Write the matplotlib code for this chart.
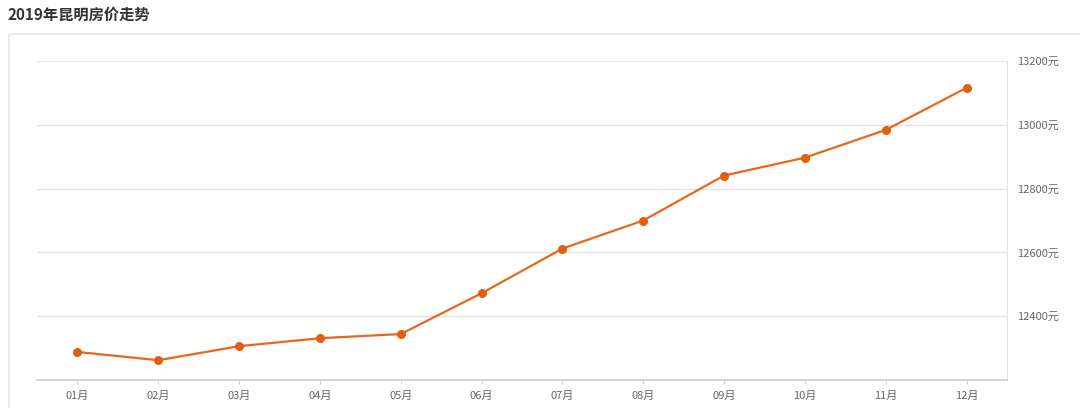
import matplotlib
matplotlib.use('Agg')
import matplotlib.pyplot as plt
from matplotlib.patches import FancyBboxPatch

plt.rcParams['font.family'] = ['Noto Sans CJK SC', 'DejaVu Sans']

months = ['01月', '02月', '03月', '04月', '05月', '06月',
          '07月', '08月', '09月', '10月', '11月', '12月']
prices = [12288, 12262, 12306, 12331, 12344, 12472,
          12612, 12700, 12841, 12897, 12984, 13116]
yticks = [12400, 12600, 12800, 13000, 13200]
title = '2019年昆明房价走势'

fig = plt.figure(figsize=(10.8, 4.08), dpi=100)
fig.patch.set_facecolor('white')

# outer frame
box = FancyBboxPatch((9 / 1080, -0.05), 1.2, (408 - 34) / 408 + 0.05,
                     boxstyle='round,pad=0,rounding_size=0.004',
                     transform=fig.transFigure, facecolor='white',
                     edgecolor='#e6e6e6', linewidth=1.2, zorder=-10)
fig.patches.append(box)

fig.text(8 / 1080, 1 - 15 / 408, title, fontsize=11, fontweight='bold',
         color='#333333', va='center', ha='left')

ax = fig.add_axes([37 / 1080, (408 - 380) / 408, (1007 - 37) / 1080, (380 - 61) / 408])
ax.set_facecolor('none')
x = list(range(len(months)))
ax.plot(x, prices, color='#e8671c', linewidth=1.6, marker='o',
        markersize=5.5, markerfacecolor='#e0600e', markeredgecolor='#e0600e',
        zorder=3, clip_on=False)

ax.set_xlim(-0.5, len(months) - 0.5)
ax.set_ylim(12200, 13200)
ax.set_xticks(x)
ax.set_xticklabels(months)
ax.set_yticks(yticks)
ax.set_yticklabels([f'{v}元' for v in yticks])
ax.yaxis.tick_right()
ax.grid(axis='y', color='#e3e3e3', linewidth=1)
ax.set_axisbelow(True)

for s in ['top', 'left']:
    ax.spines[s].set_visible(False)
ax.spines['right'].set_color('#e3e3e3')
ax.spines['bottom'].set_color('#cccccc')
ax.spines['bottom'].set_linewidth(1.2)

ax.tick_params(axis='x', colors='#d5d5d5', labelcolor='#666666', labelsize=8,
               length=3, pad=5)
ax.tick_params(axis='y', length=0, labelcolor='#666666', labelsize=8, pad=7)

fig.savefig('out.png', dpi=100)
